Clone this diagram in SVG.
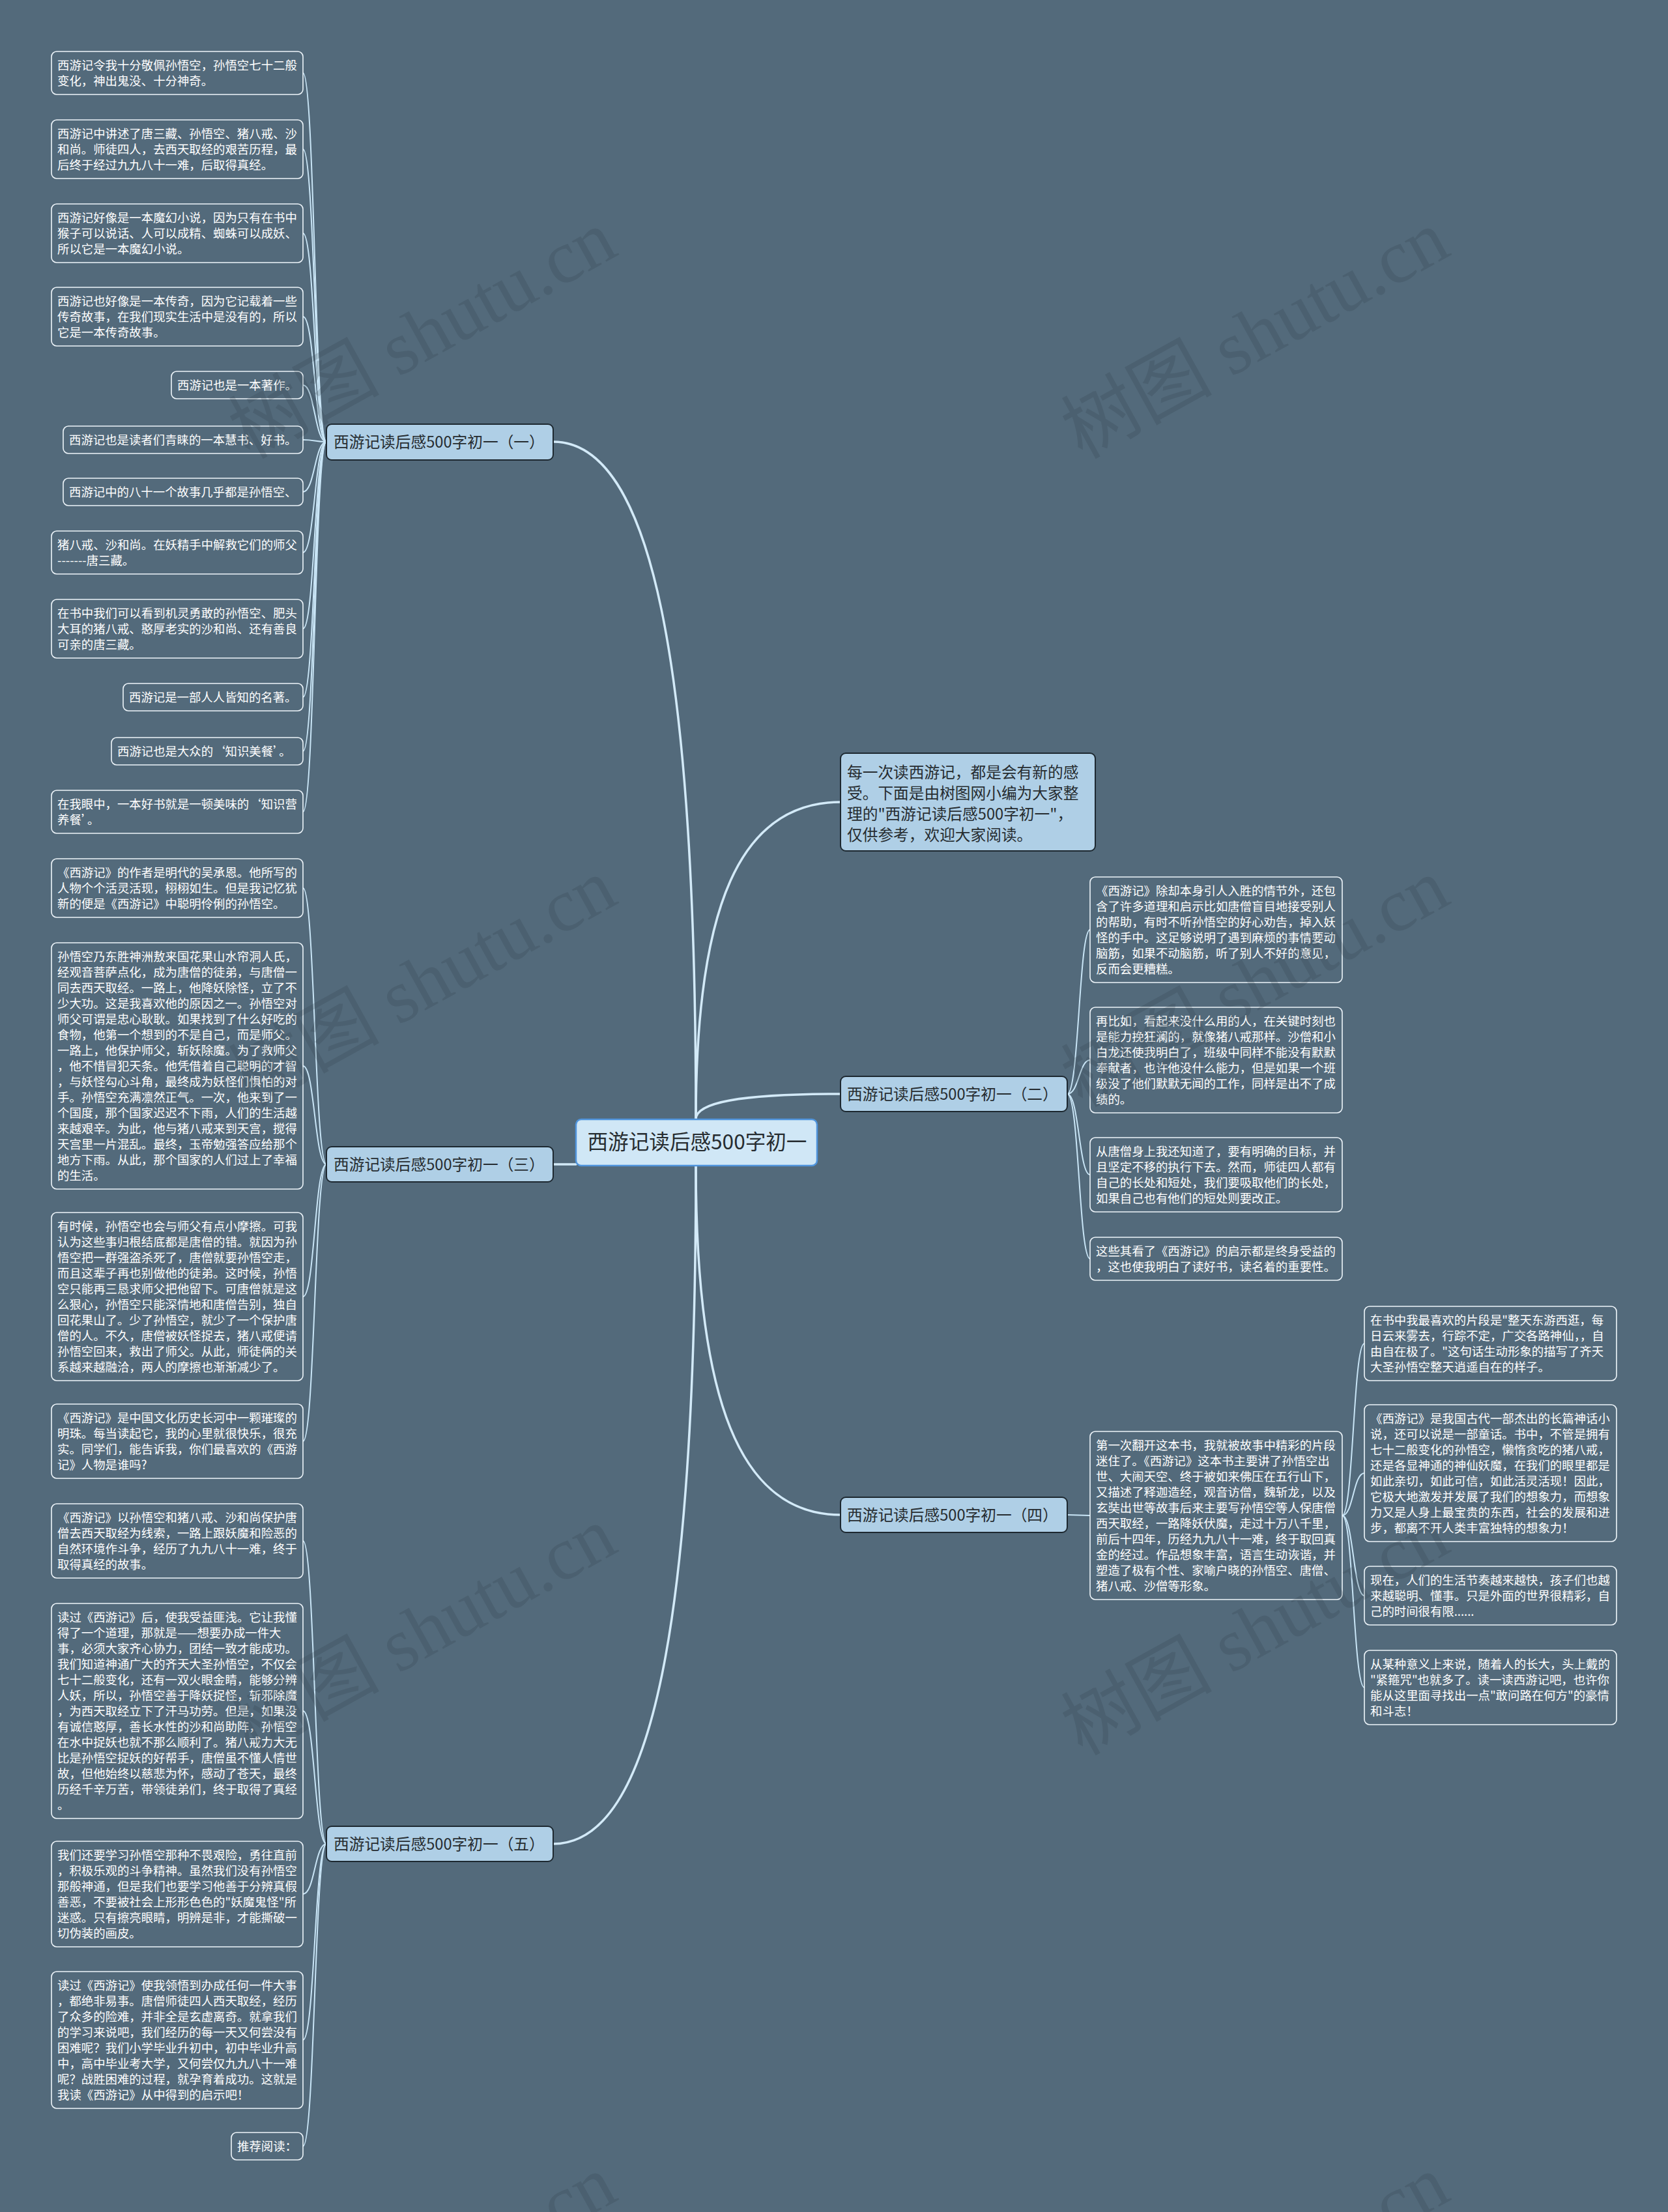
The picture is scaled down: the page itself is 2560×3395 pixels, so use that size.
<svg xmlns="http://www.w3.org/2000/svg" width="2560" height="3395" viewBox="0 0 2560 3395">
<style>
text{font-family:"Noto Sans CJK SC","Noto Sans",sans-serif;}
.leaf{fill:#536a7b;stroke:#eef5fa;stroke-width:1.6;}
.lt{fill:#ffffff;font-size:18.4px;}
.br{fill:#afcfe6;stroke:#1d2830;stroke-width:2;}
.bt{fill:#262c30;font-size:23.7px;}
.ctr{fill:#d0e7f6;stroke:#4f94dc;stroke-width:2.5;}
.ct{fill:#262c30;font-size:31.6px;}
.main{fill:none;stroke:#d3eaf8;stroke-width:3.5;stroke-linecap:round;}
.sub{fill:none;stroke:#c9e5f6;stroke-width:2;}
.wm{font-family:"Liberation Serif","Noto Sans CJK SC",serif;font-size:116px;fill:#2d3a44;fill-opacity:0.2;}
</style>
<rect x="0" y="0" width="2560" height="3395" fill="#536a7b"/>

<g id="connectors">
<path class="main" d="M1068 1718 C1068 1018,1000 678,849 678"/>
<path class="main" d="M884 1787 L849 1787"/>
<path class="main" d="M1068 1789 C1068 2486,1002 2830,849 2830"/>
<path class="main" d="M1068 1718 C1068 1392,1135 1231,1290 1231"/>
<path class="main" d="M1068 1718 C1068 1692,1135 1679,1290 1679"/>
<path class="main" d="M1068 1789 C1068 2148,1135 2325,1290 2325"/>
<path class="sub" d="M501 678 C483 678,483 112,465 112"/>
<path class="sub" d="M501 678 C483 678,483 229,465 229"/>
<path class="sub" d="M501 678 C483 678,483 358,465 358"/>
<path class="sub" d="M501 678 C483 678,483 486,465 486"/>
<path class="sub" d="M501 678 C483 678,483 591,465 591"/>
<path class="sub" d="M501 678 C483 678,483 675,465 675"/>
<path class="sub" d="M501 678 C483 678,483 755,465 755"/>
<path class="sub" d="M501 678 C483 678,483 848,465 848"/>
<path class="sub" d="M501 678 C483 678,483 965,465 965"/>
<path class="sub" d="M501 678 C483 678,483 1070,465 1070"/>
<path class="sub" d="M501 678 C483 678,483 1153,465 1153"/>
<path class="sub" d="M501 678 C483 678,483 1246,465 1246"/>
<path class="sub" d="M501 1787 C483 1787,483 1363,465 1363"/>
<path class="sub" d="M501 1787 C483 1787,483 1636,465 1636"/>
<path class="sub" d="M501 1787 C483 1787,483 1990,465 1990"/>
<path class="sub" d="M501 1787 C483 1787,483 2212,465 2212"/>
<path class="sub" d="M501 2830 C483 2830,483 2365,465 2365"/>
<path class="sub" d="M501 2830 C483 2830,483 2626,465 2626"/>
<path class="sub" d="M501 2830 C483 2830,483 2907,465 2907"/>
<path class="sub" d="M501 2830 C483 2830,483 3131,465 3131"/>
<path class="sub" d="M501 2830 C483 2830,483 3294,465 3294"/>
<path class="sub" d="M1638 1679 C1656 1679,1656 1427,1673 1427"/>
<path class="sub" d="M1638 1679 C1656 1679,1656 1627,1673 1627"/>
<path class="sub" d="M1638 1679 C1656 1679,1656 1803,1673 1803"/>
<path class="sub" d="M1638 1679 C1656 1679,1656 1932,1673 1932"/>
<path class="sub" d="M1638 2325 C1656 2325,1656 2326,1673 2326"/>
<path class="sub" d="M2060 2326 C2077 2326,2077 2062,2094 2062"/>
<path class="sub" d="M2060 2326 C2077 2326,2077 2261,2094 2261"/>
<path class="sub" d="M2060 2326 C2077 2326,2077 2449,2094 2449"/>
<path class="sub" d="M2060 2326 C2077 2326,2077 2590,2094 2590"/>
</g>

<g id="center">
<rect class="ctr" x="884" y="1718" width="370" height="71" rx="8"/>
<text class="ct" x="1070" y="1764" text-anchor="middle">西游记读后感500字初一</text>
</g>

<g id="intro">
<rect class="br" x="1290" y="1156" width="391" height="150" rx="8"/>
<text class="bt"><tspan x="1300" y="1194">每一次读西游记，都是会有新的感</tspan><tspan x="1300" y="1226">受。下面是由树图网小编为大家整</tspan><tspan x="1300" y="1258">理的"西游记读后感500字初一"，</tspan><tspan x="1300" y="1290">仅供参考，欢迎大家阅读。</tspan></text>
</g>

<g id="b1">
<rect class="br" x="501" y="651" width="348" height="55" rx="8"/>
<text class="bt" x="512" y="687">西游记读后感500字初一（一）</text>
</g>
<g id="b2">
<rect class="br" x="1290" y="1652" width="348" height="54" rx="8"/>
<text class="bt" x="1300" y="1688">西游记读后感500字初一（二）</text>
</g>
<g id="b3">
<rect class="br" x="501" y="1760" width="348" height="54" rx="8"/>
<text class="bt" x="512" y="1796">西游记读后感500字初一（三）</text>
</g>
<g id="b4">
<rect class="br" x="1290" y="2298" width="348" height="54" rx="8"/>
<text class="bt" x="1300" y="2334">西游记读后感500字初一（四）</text>
</g>
<g id="b5">
<rect class="br" x="501" y="2803" width="348" height="54" rx="8"/>
<text class="bt" x="512" y="2839">西游记读后感500字初一（五）</text>
</g>

<g id="l1"><rect class="leaf" x="79" y="79" width="386" height="66" rx="8"/>
<text class="lt"><tspan x="88" y="106.5">西游记令我十分敬佩孙悟空，孙悟空七十二般</tspan><tspan x="88" y="130.5">变化，神出鬼没、十分神奇。</tspan></text></g>
<g id="l2"><rect class="leaf" x="79" y="184" width="386" height="90" rx="8"/>
<text class="lt"><tspan x="88" y="211.5">西游记中讲述了唐三藏、孙悟空、猪八戒、沙</tspan><tspan x="88" y="235.5">和尚。师徒四人，去西天取经的艰苦历程，最</tspan><tspan x="88" y="259.5">后终于经过九九八十一难，后取得真经。</tspan></text></g>
<g id="l3"><rect class="leaf" x="79" y="313" width="386" height="90" rx="8"/>
<text class="lt"><tspan x="88" y="340.5">西游记好像是一本魔幻小说，因为只有在书中</tspan><tspan x="88" y="364.5">猴子可以说话、人可以成精、蜘蛛可以成妖、</tspan><tspan x="88" y="388.5">所以它是一本魔幻小说。</tspan></text></g>
<g id="l4"><rect class="leaf" x="79" y="441" width="386" height="90" rx="8"/>
<text class="lt"><tspan x="88" y="468.5">西游记也好像是一本传奇，因为它记载着一些</tspan><tspan x="88" y="492.5">传奇故事，在我们现实生活中是没有的，所以</tspan><tspan x="88" y="516.5">它是一本传奇故事。</tspan></text></g>
<g id="l5"><rect class="leaf" x="263" y="570" width="202" height="42" rx="8"/>
<text class="lt" x="272" y="597.5">西游记也是一本著作。</text></g>
<g id="l6"><rect class="leaf" x="97" y="654" width="368" height="42" rx="8"/>
<text class="lt" x="106" y="681.5">西游记也是读者们青睐的一本慧书、好书。</text></g>
<g id="l7"><rect class="leaf" x="97" y="734" width="368" height="42" rx="8"/>
<text class="lt" x="106" y="761.5">西游记中的八十一个故事几乎都是孙悟空、</text></g>
<g id="l8"><rect class="leaf" x="79" y="815" width="386" height="66" rx="8"/>
<text class="lt"><tspan x="88" y="842.5">猪八戒、沙和尚。在妖精手中解救它们的师父</tspan><tspan x="88" y="866.5">-------唐三藏。</tspan></text></g>
<g id="l9"><rect class="leaf" x="79" y="920" width="386" height="90" rx="8"/>
<text class="lt"><tspan x="88" y="947.5">在书中我们可以看到机灵勇敢的孙悟空、肥头</tspan><tspan x="88" y="971.5">大耳的猪八戒、憨厚老实的沙和尚、还有善良</tspan><tspan x="88" y="995.5">可亲的唐三藏。</tspan></text></g>
<g id="l10"><rect class="leaf" x="189" y="1049" width="276" height="42" rx="8"/>
<text class="lt" x="198" y="1076.5">西游记是一部人人皆知的名著。</text></g>
<g id="l11"><rect class="leaf" x="171" y="1132" width="294" height="42" rx="8"/>
<text class="lt" x="180" y="1159.5">西游记也是大众的‘知识美餐’。</text></g>
<g id="l12"><rect class="leaf" x="79" y="1213" width="386" height="66" rx="8"/>
<text class="lt"><tspan x="88" y="1240.5">在我眼中，一本好书就是一顿美味的‘知识营</tspan><tspan x="88" y="1264.5">养餐’。</tspan></text></g>

<g id="l13"><rect class="leaf" x="79" y="1318" width="386" height="90" rx="8"/>
<text class="lt"><tspan x="88" y="1345.5">《西游记》的作者是明代的吴承恩。他所写的</tspan><tspan x="88" y="1369.5">人物个个活灵活现，栩栩如生。但是我记忆犹</tspan><tspan x="88" y="1393.5">新的便是《西游记》中聪明伶俐的孙悟空。</tspan></text></g>
<g id="l14"><rect class="leaf" x="79" y="1447" width="386" height="378" rx="8"/>
<text class="lt"><tspan x="88" y="1474.5">孙悟空乃东胜神洲敖来国花果山水帘洞人氏，</tspan><tspan x="88" y="1498.5">经观音菩萨点化，成为唐僧的徒弟，与唐僧一</tspan><tspan x="88" y="1522.5">同去西天取经。一路上，他降妖除怪，立了不</tspan><tspan x="88" y="1546.5">少大功。这是我喜欢他的原因之一。孙悟空对</tspan><tspan x="88" y="1570.5">师父可谓是忠心耿耿。如果找到了什么好吃的</tspan><tspan x="88" y="1594.5">食物，他第一个想到的不是自己，而是师父。</tspan><tspan x="88" y="1618.5">一路上，他保护师父，斩妖除魔。为了救师父</tspan><tspan x="88" y="1642.5">，他不惜冒犯天条。他凭借着自己聪明的才智</tspan><tspan x="88" y="1666.5">，与妖怪勾心斗角，最终成为妖怪们惧怕的对</tspan><tspan x="88" y="1690.5">手。孙悟空充满凛然正气。一次，他来到了一</tspan><tspan x="88" y="1714.5">个国度，那个国家迟迟不下雨，人们的生活越</tspan><tspan x="88" y="1738.5">来越艰辛。为此，他与猪八戒来到天宫，搅得</tspan><tspan x="88" y="1762.5">天宫里一片混乱。最终，玉帝勉强答应给那个</tspan><tspan x="88" y="1786.5">地方下雨。从此，那个国家的人们过上了幸福</tspan><tspan x="88" y="1810.5">的生活。</tspan></text></g>
<g id="l15"><rect class="leaf" x="79" y="1861" width="386" height="258" rx="8"/>
<text class="lt"><tspan x="88" y="1888.5">有时候，孙悟空也会与师父有点小摩擦。可我</tspan><tspan x="88" y="1912.5">认为这些事归根结底都是唐僧的错。就因为孙</tspan><tspan x="88" y="1936.5">悟空把一群强盗杀死了，唐僧就要孙悟空走，</tspan><tspan x="88" y="1960.5">而且这辈子再也别做他的徒弟。这时候，孙悟</tspan><tspan x="88" y="1984.5">空只能再三恳求师父把他留下。可唐僧就是这</tspan><tspan x="88" y="2008.5">么狠心，孙悟空只能深情地和唐僧告别，独自</tspan><tspan x="88" y="2032.5">回花果山了。少了孙悟空，就少了一个保护唐</tspan><tspan x="88" y="2056.5">僧的人。不久，唐僧被妖怪捉去，猪八戒便请</tspan><tspan x="88" y="2080.5">孙悟空回来，救出了师父。从此，师徒俩的关</tspan><tspan x="88" y="2104.5">系越来越融洽，两人的摩擦也渐渐减少了。</tspan></text></g>
<g id="l16"><rect class="leaf" x="79" y="2155" width="386" height="114" rx="8"/>
<text class="lt"><tspan x="88" y="2182.5">《西游记》是中国文化历史长河中一颗璀璨的</tspan><tspan x="88" y="2206.5">明珠。每当读起它，我的心里就很快乐，很充</tspan><tspan x="88" y="2230.5">实。同学们，能告诉我，你们最喜欢的《西游</tspan><tspan x="88" y="2254.5">记》人物是谁吗?</tspan></text></g>

<g id="l17"><rect class="leaf" x="79" y="2308" width="386" height="114" rx="8"/>
<text class="lt"><tspan x="88" y="2335.5">《西游记》以孙悟空和猪八戒、沙和尚保护唐</tspan><tspan x="88" y="2359.5">僧去西天取经为线索，一路上跟妖魔和险恶的</tspan><tspan x="88" y="2383.5">自然环境作斗争，经历了九九八十一难，终于</tspan><tspan x="88" y="2407.5">取得真经的故事。</tspan></text></g>
<g id="l18"><rect class="leaf" x="79" y="2461" width="386" height="330" rx="8"/>
<text class="lt"><tspan x="88" y="2488.5">读过《西游记》后，使我受益匪浅。它让我懂</tspan><tspan x="88" y="2512.5">得了一个道理，那就是——想要办成一件大</tspan><tspan x="88" y="2536.5">事，必须大家齐心协力，团结一致才能成功。</tspan><tspan x="88" y="2560.5">我们知道神通广大的齐天大圣孙悟空，不仅会</tspan><tspan x="88" y="2584.5">七十二般变化，还有一双火眼金睛，能够分辨</tspan><tspan x="88" y="2608.5">人妖，所以，孙悟空善于降妖捉怪，斩邪除魔</tspan><tspan x="88" y="2632.5">，为西天取经立下了汗马功劳。但是，如果没</tspan><tspan x="88" y="2656.5">有诚信憨厚，善长水性的沙和尚助阵，孙悟空</tspan><tspan x="88" y="2680.5">在水中捉妖也就不那么顺利了。猪八戒力大无</tspan><tspan x="88" y="2704.5">比是孙悟空捉妖的好帮手，唐僧虽不懂人情世</tspan><tspan x="88" y="2728.5">故，但他始终以慈悲为怀，感动了苍天，最终</tspan><tspan x="88" y="2752.5">历经千辛万苦，带领徒弟们，终于取得了真经</tspan><tspan x="88" y="2776.5">。</tspan></text></g>
<g id="l19"><rect class="leaf" x="79" y="2826" width="386" height="162" rx="8"/>
<text class="lt"><tspan x="88" y="2853.5">我们还要学习孙悟空那种不畏艰险，勇往直前</tspan><tspan x="88" y="2877.5">，积极乐观的斗争精神。虽然我们没有孙悟空</tspan><tspan x="88" y="2901.5">那般神通，但是我们也要学习他善于分辨真假</tspan><tspan x="88" y="2925.5">善恶，不要被社会上形形色色的"妖魔鬼怪"所</tspan><tspan x="88" y="2949.5">迷惑。只有擦亮眼睛，明辨是非，才能撕破一</tspan><tspan x="88" y="2973.5">切伪装的画皮。</tspan></text></g>
<g id="l20"><rect class="leaf" x="79" y="3026" width="386" height="210" rx="8"/>
<text class="lt"><tspan x="88" y="3053.5">读过《西游记》使我领悟到办成任何一件大事</tspan><tspan x="88" y="3077.5">，都绝非易事。唐僧师徒四人西天取经，经历</tspan><tspan x="88" y="3101.5">了众多的险难，并非全是玄虚离奇。就拿我们</tspan><tspan x="88" y="3125.5">的学习来说吧，我们经历的每一天又何尝没有</tspan><tspan x="88" y="3149.5">困难呢？我们小学毕业升初中，初中毕业升高</tspan><tspan x="88" y="3173.5">中，高中毕业考大学，又何尝仅九九八十一难</tspan><tspan x="88" y="3197.5">呢？战胜困难的过程，就孕育着成功。这就是</tspan><tspan x="88" y="3221.5">我读《西游记》从中得到的启示吧！</tspan></text></g>
<g id="l21"><rect class="leaf" x="355" y="3273" width="110" height="42" rx="8"/>
<text class="lt" x="364" y="3300.5">推荐阅读：</text></g>

<g id="r1"><rect class="leaf" x="1673" y="1346" width="387" height="162" rx="8"/>
<text class="lt"><tspan x="1682" y="1373.5">《西游记》除却本身引人入胜的情节外，还包</tspan><tspan x="1682" y="1397.5">含了许多道理和启示比如唐僧盲目地接受别人</tspan><tspan x="1682" y="1421.5">的帮助，有时不听孙悟空的好心劝告，掉入妖</tspan><tspan x="1682" y="1445.5">怪的手中。这足够说明了遇到麻烦的事情要动</tspan><tspan x="1682" y="1469.5">脑筋，如果不动脑筋，听了别人不好的意见，</tspan><tspan x="1682" y="1493.5">反而会更糟糕。</tspan></text></g>
<g id="r2"><rect class="leaf" x="1673" y="1546" width="387" height="162" rx="8"/>
<text class="lt"><tspan x="1682" y="1573.5">再比如，看起来没什么用的人，在关键时刻也</tspan><tspan x="1682" y="1597.5">是能力挽狂澜的，就像猪八戒那样。沙僧和小</tspan><tspan x="1682" y="1621.5">白龙还使我明白了，班级中同样不能没有默默</tspan><tspan x="1682" y="1645.5">奉献者，也许他没什么能力，但是如果一个班</tspan><tspan x="1682" y="1669.5">级没了他们默默无闻的工作，同样是出不了成</tspan><tspan x="1682" y="1693.5">绩的。</tspan></text></g>
<g id="r3"><rect class="leaf" x="1673" y="1746" width="387" height="114" rx="8"/>
<text class="lt"><tspan x="1682" y="1773.5">从唐僧身上我还知道了，要有明确的目标，并</tspan><tspan x="1682" y="1797.5">且坚定不移的执行下去。然而，师徒四人都有</tspan><tspan x="1682" y="1821.5">自己的长处和短处，我们要吸取他们的长处，</tspan><tspan x="1682" y="1845.5">如果自己也有他们的短处则要改正。</tspan></text></g>
<g id="r4"><rect class="leaf" x="1673" y="1899" width="387" height="66" rx="8"/>
<text class="lt"><tspan x="1682" y="1926.5">这些其看了《西游记》的启示都是终身受益的</tspan><tspan x="1682" y="1950.5">，这也使我明白了读好书，读名着的重要性。</tspan></text></g>

<g id="q1"><rect class="leaf" x="1673" y="2197" width="387" height="258" rx="8"/>
<text class="lt"><tspan x="1682" y="2224.5">第一次翻开这本书，我就被故事中精彩的片段</tspan><tspan x="1682" y="2248.5">迷住了。《西游记》这本书主要讲了孙悟空出</tspan><tspan x="1682" y="2272.5">世、大闹天空、终于被如来佛压在五行山下，</tspan><tspan x="1682" y="2296.5">又描述了释迦造经，观音访僧，魏斩龙，以及</tspan><tspan x="1682" y="2320.5">玄奘出世等故事后来主要写孙悟空等人保唐僧</tspan><tspan x="1682" y="2344.5">西天取经，一路降妖伏魔，走过十万八千里，</tspan><tspan x="1682" y="2368.5">前后十四年，历经九九八十一难，终于取回真</tspan><tspan x="1682" y="2392.5">金的经过。作品想象丰富，语言生动诙谐，并</tspan><tspan x="1682" y="2416.5">塑造了极有个性、家喻户晓的孙悟空、唐僧、</tspan><tspan x="1682" y="2440.5">猪八戒、沙僧等形象。</tspan></text></g>
<g id="g1"><rect class="leaf" x="2094" y="2005" width="387" height="114" rx="8"/>
<text class="lt"><tspan x="2103" y="2032.5">在书中我最喜欢的片段是"整天东游西逛，每</tspan><tspan x="2103" y="2056.5">日云来雾去，行踪不定，广交各路神仙，，自</tspan><tspan x="2103" y="2080.5">由自在极了。"这句话生动形象的描写了齐天</tspan><tspan x="2103" y="2104.5">大圣孙悟空整天逍遥自在的样子。</tspan></text></g>
<g id="g2"><rect class="leaf" x="2094" y="2156" width="387" height="210" rx="8"/>
<text class="lt"><tspan x="2103" y="2183.5">《西游记》是我国古代一部杰出的长篇神话小</tspan><tspan x="2103" y="2207.5">说，还可以说是一部童话。书中，不管是拥有</tspan><tspan x="2103" y="2231.5">七十二般变化的孙悟空，懒惰贪吃的猪八戒，</tspan><tspan x="2103" y="2255.5">还是各显神通的神仙妖魔，在我们的眼里都是</tspan><tspan x="2103" y="2279.5">如此亲切，如此可信，如此活灵活现！因此，</tspan><tspan x="2103" y="2303.5">它极大地激发并发展了我们的想象力，而想象</tspan><tspan x="2103" y="2327.5">力又是人身上最宝贵的东西，社会的发展和进</tspan><tspan x="2103" y="2351.5">步，都离不开人类丰富独特的想象力！</tspan></text></g>
<g id="g3"><rect class="leaf" x="2094" y="2404" width="387" height="90" rx="8"/>
<text class="lt"><tspan x="2103" y="2431.5">现在，人们的生活节奏越来越快，孩子们也越</tspan><tspan x="2103" y="2455.5">来越聪明、懂事。只是外面的世界很精彩，自</tspan><tspan x="2103" y="2479.5">己的时间很有限......</tspan></text></g>
<g id="g4"><rect class="leaf" x="2094" y="2533" width="387" height="114" rx="8"/>
<text class="lt"><tspan x="2103" y="2560.5">从某种意义上来说，随着人的长大，头上戴的</tspan><tspan x="2103" y="2584.5">"紧箍咒"也就多了。读一读西游记吧，也许你</tspan><tspan x="2103" y="2608.5">能从这里面寻找出一点"敢问路在何方"的豪情</tspan><tspan x="2103" y="2632.5">和斗志！</tspan></text></g>

<g id="watermarks">
<text class="wm" text-anchor="end" transform="translate(952 390) rotate(-29)">树图 shutu.cn</text>
<text class="wm" text-anchor="end" transform="translate(2230 390) rotate(-29)">树图 shutu.cn</text>
<text class="wm" text-anchor="end" transform="translate(952 1385) rotate(-29)">树图 shutu.cn</text>
<text class="wm" text-anchor="end" transform="translate(2230 1385) rotate(-29)">树图 shutu.cn</text>
<text class="wm" text-anchor="end" transform="translate(952 2380) rotate(-29)">树图 shutu.cn</text>
<text class="wm" text-anchor="end" transform="translate(2230 2380) rotate(-29)">树图 shutu.cn</text>
<text class="wm" text-anchor="end" transform="translate(952 3375) rotate(-29)">树图 shutu.cn</text>
<text class="wm" text-anchor="end" transform="translate(2230 3375) rotate(-29)">树图 shutu.cn</text>
</g>
</svg>
